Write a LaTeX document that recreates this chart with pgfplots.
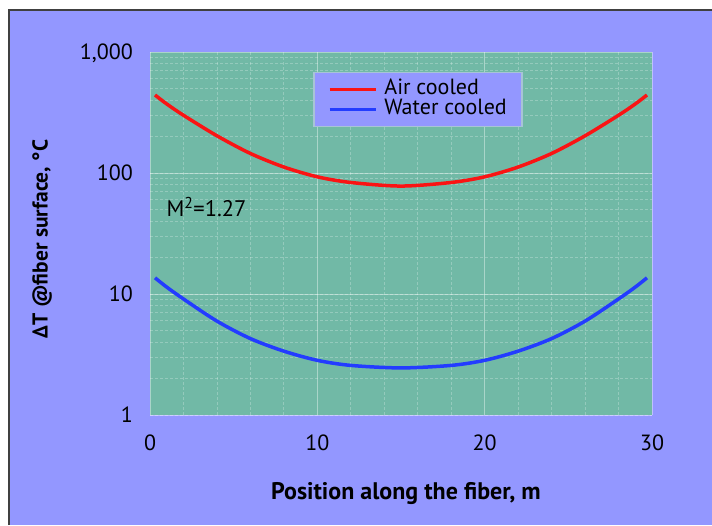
\documentclass[border=0pt]{standalone}
\usepackage{pgfplots}
\pgfplotsset{compat=1.18}
\usepackage{fontspec}
\setmainfont{PT Sans}

\definecolor{bgblue}{RGB}{147,151,255}
\definecolor{plotgreen}{RGB}{113,185,166}
\definecolor{legedge}{RGB}{168,196,214}
\definecolor{airred}{RGB}{250,20,20}
\definecolor{waterblue}{RGB}{35,60,255}

\begin{document}
\begin{tikzpicture}[x=1pt,y=1pt]
    \path[use as bounding box,fill=white] (0,0) rectangle (712,525);
    \fill[bgblue] (9,0) rectangle (712,515);
    \draw[line width=1.2pt,black!75] (9,0) -- (9,515) -- (712,515);

    \begin{axis}[
        at={(150pt,110pt)},anchor=south west,
        scale only axis,
        width=502pt,height=363pt,
        xmin=0,xmax=30,
        ymode=log,ymin=1,ymax=1000,
        xtick={0,10,20,30},
        minor x tick num=4,
        ytick={1,10,100,1000},
        yticklabels={1,10,100,{1,000}},
        major tick length=0pt,minor tick length=0pt,
        axis line style={draw=none},
        axis background/.style={fill=plotgreen},
        grid=both,
        major grid style={white,opacity=0.4,line width=0.9pt},
        minor grid style={white,opacity=0.25,line width=0.8pt,dash pattern=on 3pt off 2pt},
        /pgf/number format/assume math mode=true,
        tick label style={font=\fontsize{22}{26}\selectfont,text depth=0pt,inner sep=0pt},
        xticklabel style={anchor=center,yshift=-28pt},
        yticklabel style={anchor=east,xshift=-17pt},
        xlabel={\textbf{Position along the fiber, m}},
        ylabel={\textbf{ΔT @fiber surface, °C}},
        xlabel style={font=\fontsize{24}{28}\selectfont,
                      at={(axis description cs:0.51,-0.234)},anchor=base},
        ylabel style={font=\fontsize{21.5}{25}\selectfont,
                      at={(axis description cs:-0.204,0.485)},anchor=base},
        legend style={at={(axis description cs:0.325,0.945)},anchor=north west,
                      fill=bgblue,draw=legedge,line width=1.5pt,
                      font=\fontsize{22}{26}\selectfont,
                      inner xsep=14pt,inner ysep=7pt,
                      nodes={inner sep=1pt,text height=14pt,text depth=4pt},
                      /tikz/every odd column/.append style={column sep=6pt}},
        legend cell align=left,
        legend image code/.code={\draw[#1] (0pt,0pt) -- (46pt,0pt);},
        ]

        \addplot[airred,line width=3.5pt,smooth] coordinates {
            (0.3,441) (1,372) (2,300) (4,203) (6,145) (8,112) (10,93) (12,83.5)
            (15,78) (18,83.5) (20,93) (22,112) (24,145) (26,203) (28,300)
            (29,372) (29.7,441)
        };
        \addlegendentry{Air cooled}

        \addplot[waterblue,line width=3.5pt,smooth] coordinates {
            (0.3,13.6) (1,11.4) (2,9.1) (4,5.97) (6,4.28) (8,3.37) (10,2.83)
            (12,2.57) (15,2.45) (18,2.57) (20,2.83) (22,3.37) (24,4.28) (26,5.97)
            (28,9.1) (29,11.4) (29.7,13.6)
        };
        \addlegendentry{Water cooled}

        \node[anchor=west,font=\fontsize{22.5}{26}\selectfont]
            at (axis description cs:0.026,0.573) {M\textsuperscript{2}=1.27};
    \end{axis}
\end{tikzpicture}
\end{document}
